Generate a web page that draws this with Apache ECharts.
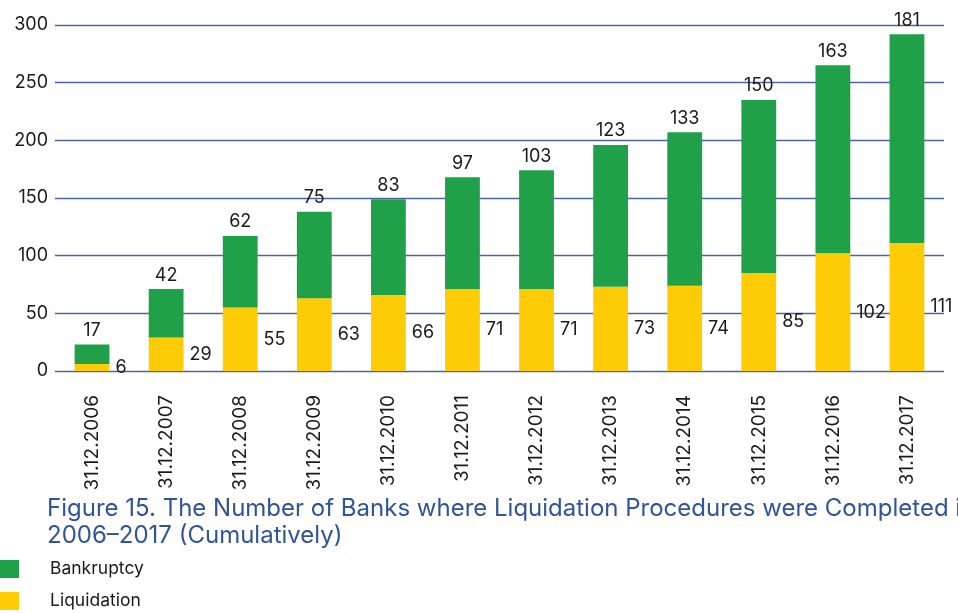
<!DOCTYPE html>
<html>
<head>
<meta charset="utf-8">
<script src="https://cdn.jsdelivr.net/npm/echarts@6/dist/echarts.min.js"></script>
<style>
    html, body { margin: 0; padding: 0; background: #ffffff; }
    #chart { width: 958px; height: 613px; }
</style>
</head>
<body>
<div id="chart"></div>
<script>
const categories = ["31.12.2006", "31.12.2007", "31.12.2008", "31.12.2009", "31.12.2010", "31.12.2011",
    "31.12.2012", "31.12.2013", "31.12.2014", "31.12.2015", "31.12.2016", "31.12.2017"];
const liquidation = [6, 29, 55, 63, 66, 71, 71, 73, 74, 85, 102, 111];
const bankruptcy = [17, 42, 62, 75, 83, 97, 103, 123, 133, 150, 163, 181];
const titleText = "Figure 15. The Number of Banks where Liquidation Procedures were Completed in\n2006\u20132017 (Cumulatively)";

document.addEventListener("DOMContentLoaded", function () {
    const chart = echarts.init(document.getElementById("chart"));
    const font = "Inter, 'Noto Sans', sans-serif";
    const legendText = { color: "#1a1a1a", fontSize: 17.5, padding: [0, 0, 0, 26], fontFamily: font };
    chart.setOption({
        animation: false,
        textStyle: { fontFamily: font },
        title: {
            text: titleText,
            left: 42,
            top: 490,
            textStyle: { color: "#2f5597", fontSize: 24, fontWeight: "normal", lineHeight: 27, fontFamily: font },
        },
        legend: [
            {
                data: ["Bankruptcy"],
                left: -5,
                top: 555,
                icon: "rect",
                itemWidth: 19,
                itemHeight: 18,
                textStyle: legendText,
            },
            {
                data: ["Liquidation"],
                left: -5,
                top: 587,
                icon: "rect",
                itemWidth: 19,
                itemHeight: 18,
                textStyle: legendText,
            },
        ],
        grid: { left: 55, right: 14, top: 25, bottom: 242 },
        xAxis: {
            type: "category",
            data: categories,
            axisLine: { show: false },
            axisTick: { show: false },
            axisLabel: { rotate: 90, margin: 24, color: "#1a1a1a", fontSize: 19, fontFamily: font },
        },
        yAxis: {
            type: "value",
            min: 0,
            max: 300,
            interval: 50,
            axisLine: { show: false },
            axisTick: { show: false },
            axisLabel: { color: "#1a1a1a", fontSize: 18, margin: 7, fontFamily: font },
            splitLine: { lineStyle: { color: "#4a66a0", width: 1.3 } },
        },
        series: [
            {
                name: "Liquidation",
                type: "bar",
                stack: "total",
                data: liquidation,
                barWidth: "47%",
                itemStyle: { color: "#fecc07" },
                label: { show: true, position: "right", distance: 6, color: "#1a1a1a", fontSize: 18, fontFamily: font },
            },
            {
                name: "Bankruptcy",
                type: "bar",
                stack: "total",
                data: bankruptcy,
                barWidth: "47%",
                itemStyle: { color: "#21a04a" },
                label: { show: true, position: "top", distance: 5, color: "#1a1a1a", fontSize: 18, fontFamily: font },
            },
        ],
    });
});
</script>
</body>
</html>
